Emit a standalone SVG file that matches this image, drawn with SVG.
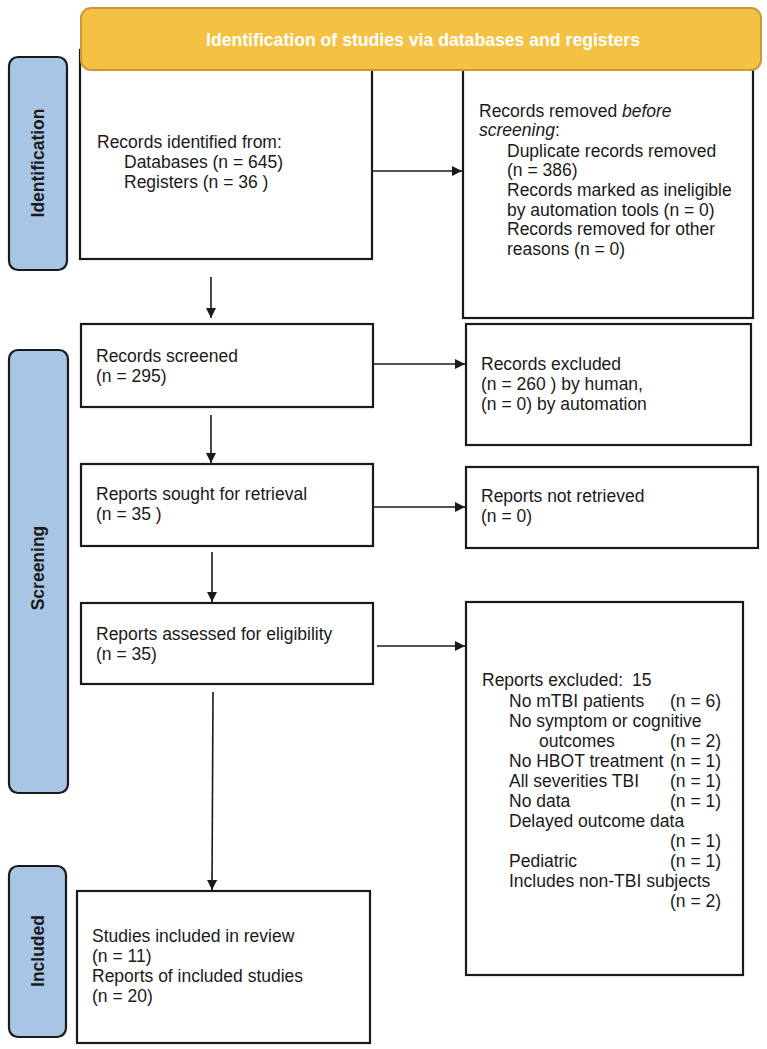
<svg xmlns="http://www.w3.org/2000/svg" width="767" height="1049" viewBox="0 0 767 1049">
<style>
.box{fill:#fff;stroke:#1a1a1a;stroke-width:2.2}
.side{fill:#a9c5e6;stroke:#1a1a1a;stroke-width:2.2}
.t{font-family:"Liberation Sans",Arial,sans-serif;font-size:17.5px;fill:#1a1a1a}
.st{font-family:"Liberation Sans",Arial,sans-serif;font-size:17.5px;font-weight:bold;fill:#1a1a1a;text-anchor:middle}
.ln{stroke:#1a1a1a;stroke-width:1.6;fill:none;marker-end:url(#ah)}
</style>
<defs>
<marker id="ah" viewBox="0 0 10 10" refX="10" refY="5" markerWidth="12" markerHeight="10" markerUnits="userSpaceOnUse" orient="auto">
<path d="M0,0 L10,5 L0,10 Z" fill="#1a1a1a"/>
</marker>
</defs>
<rect width="767" height="1049" fill="#fff"/>

<g id="side-identification">
<rect class="side" x="9" y="57" width="58" height="213" rx="9"/>
<text class="st" transform="translate(44,163) rotate(-90)">Identification</text>
</g>
<g id="side-screening">
<rect class="side" x="9" y="350" width="59" height="443" rx="9"/>
<text class="st" transform="translate(44,568) rotate(-90)">Screening</text>
</g>
<g id="side-included">
<rect class="side" x="9" y="866" width="57" height="171" rx="9"/>
<text class="st" transform="translate(44,951) rotate(-90)">Included</text>
</g>

<g id="identified">
<rect class="box" x="80" y="50" width="292" height="209"/>
<text class="t" x="97" y="148">Records identified from:</text>
<text class="t" x="124" y="168">Databases (n = 645)</text>
<text class="t" x="124" y="188">Registers (n = 36 )</text>
</g>
<g id="removed">
<rect class="box" x="463" y="50" width="290" height="268"/>
<text class="t" x="479" y="117">Records removed <tspan font-style="italic">before</tspan></text>
<text class="t" x="479" y="136"><tspan font-style="italic">screening</tspan>:</text>
<text class="t" x="507" y="157">Duplicate records removed</text>
<text class="t" x="507" y="176">(n = 386)</text>
<text class="t" x="507" y="196">Records marked as ineligible</text>
<text class="t" x="507" y="216">by automation tools (n = 0)</text>
<text class="t" x="507" y="235">Records removed for other</text>
<text class="t" x="507" y="255">reasons (n = 0)</text>
</g>

<g id="banner">
<rect x="81" y="8" width="680" height="62" rx="10" fill="#f4c143" stroke="#c99a34" stroke-width="2"/>
<text x="423" y="46" font-family="'Liberation Sans',Arial,sans-serif" font-size="18.5" font-weight="bold" fill="#fff" text-anchor="middle" textLength="434" lengthAdjust="spacingAndGlyphs">Identification of studies via databases and registers</text>
</g>

<g id="screened">
<rect class="box" x="81" y="324" width="292" height="83"/>
<text class="t" x="96" y="362">Records screened</text>
<text class="t" x="96" y="382">(n = 295)</text>
</g>
<g id="excluded">
<rect class="box" x="466" y="324" width="285" height="121"/>
<text class="t" x="481" y="370">Records excluded</text>
<text class="t" x="481" y="390">(n = 260 ) by human,</text>
<text class="t" x="481" y="410">(n = 0) by automation</text>
</g>
<g id="sought">
<rect class="box" x="81" y="464" width="292" height="82"/>
<text class="t" x="96" y="500">Reports sought for retrieval</text>
<text class="t" x="96" y="520">(n = 35 )</text>
</g>
<g id="not-retrieved">
<rect class="box" x="466" y="467" width="292" height="81"/>
<text class="t" x="481" y="502">Reports not retrieved</text>
<text class="t" x="481" y="522">(n = 0)</text>
</g>
<g id="assessed">
<rect class="box" x="81" y="603" width="292" height="81"/>
<text class="t" x="96" y="640">Reports assessed for eligibility</text>
<text class="t" x="96" y="660">(n = 35)</text>
</g>
<g id="reports-excluded">
<rect class="box" x="466" y="602" width="277" height="373"/>
<text class="t" x="482" y="686">Reports excluded:<tspan x="632">15</tspan></text>
<text class="t" x="509" y="707">No mTBI patients</text><text class="t" x="670" y="707">(n = 6)</text>
<text class="t" x="509" y="727">No symptom or cognitive</text>
<text class="t" x="539" y="747">outcomes</text><text class="t" x="670" y="747">(n = 2)</text>
<text class="t" x="509" y="767">No HBOT treatment</text><text class="t" x="670" y="767">(n = 1)</text>
<text class="t" x="509" y="787">All severities TBI</text><text class="t" x="670" y="787">(n = 1)</text>
<text class="t" x="509" y="807">No data</text><text class="t" x="670" y="807">(n = 1)</text>
<text class="t" x="509" y="827">Delayed outcome data</text>
<text class="t" x="670" y="847">(n = 1)</text>
<text class="t" x="509" y="867">Pediatric</text><text class="t" x="670" y="867">(n = 1)</text>
<text class="t" x="509" y="887">Includes non-TBI subjects</text>
<text class="t" x="670" y="907">(n = 2)</text>
</g>
<g id="included">
<rect class="box" x="77" y="891" width="293" height="152"/>
<text class="t" x="92" y="942">Studies included in review</text>
<text class="t" x="92" y="962">(n = 11)</text>
<text class="t" x="92" y="982">Reports of included studies</text>
<text class="t" x="92" y="1002">(n = 20)</text>
</g>

<g id="connectors">
<line class="ln" x1="372" y1="171" x2="462" y2="171"/>
<line class="ln" x1="211" y1="277" x2="211" y2="318"/>
<line class="ln" x1="373" y1="364" x2="465" y2="364"/>
<line class="ln" x1="211" y1="415" x2="211" y2="463"/>
<line class="ln" x1="373" y1="507" x2="465" y2="507"/>
<line class="ln" x1="212" y1="552" x2="212" y2="602"/>
<line class="ln" x1="377" y1="646" x2="465" y2="646"/>
<line class="ln" x1="213" y1="692" x2="212" y2="890"/>
</g>
</svg>
